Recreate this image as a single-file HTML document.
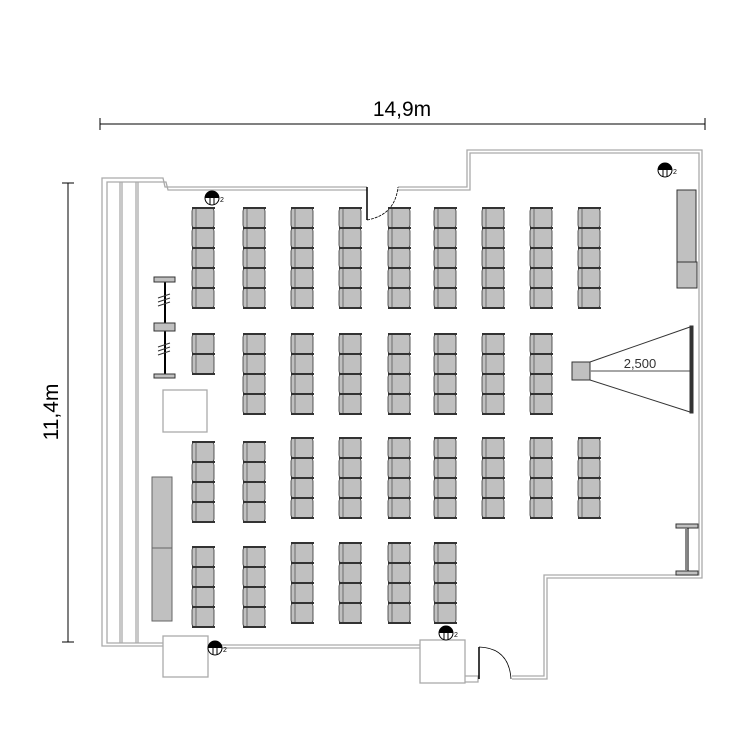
<!DOCTYPE html>
<html><head><meta charset="utf-8"><style>
html,body{margin:0;padding:0;background:#fff;}
svg{display:block;}
</style></head><body>
<svg id="s" width="750" height="750" viewBox="0 0 750 750" xmlns="http://www.w3.org/2000/svg" font-family="Liberation Sans, sans-serif">
<rect width="750" height="750" fill="#fff"/>
<!-- dimension lines -->
<g stroke="#000" stroke-width="1">
<line x1="100" y1="124" x2="705" y2="124"/>
<line x1="100" y1="118" x2="100" y2="130"/>
<line x1="705" y1="118" x2="705" y2="130"/>
<line x1="68" y1="183" x2="68" y2="642"/>
<line x1="62" y1="183" x2="74" y2="183"/>
<line x1="62" y1="642" x2="74" y2="642"/>
</g>
<text x="402" y="116" font-size="21" text-anchor="middle">14,9m</text>
<text x="0" y="0" font-size="21" text-anchor="middle" transform="translate(58,412) rotate(-90)">11,4m</text>

<!-- walls -->
<g fill="none" stroke="#aaa" stroke-width="1.3">
<polyline points="367,187 165,187 163,178 102,178 102,646 163,646"/>
<polyline points="367,190 168,190 166,182 107,182 107,643 163,643"/>
<line x1="120" y1="182" x2="120" y2="643"/><line x1="122" y1="182" x2="122" y2="643"/>
<line x1="136" y1="182" x2="136" y2="643"/><line x1="138" y1="182" x2="138" y2="643"/>
<polyline points="398,187 467,187 467,150 702,150 702,578 547,578 547,679 512,679"/>
<polyline points="398,190 470,190 470,153 699,153 699,575 544,575 544,676 512,676"/>
<polyline points="208,645 420,645"/><polyline points="208,648 420,648"/>
<polyline points="465,676 478,676 478,682 465,682"/>
<rect x="163" y="636" width="45" height="41"/>
<rect x="420" y="640" width="45" height="43"/>
<rect x="163" y="390" width="44" height="42"/>
</g>
<!-- doors -->
<g fill="none" stroke="#000">
<line x1="367" y1="187" x2="367" y2="220" stroke-width="1.5"/>
<path d="M367,220 Q395,215 398,187" stroke-width="0.8" stroke-dasharray="3,1"/>
<line x1="479" y1="647" x2="479" y2="679" stroke-width="1.5"/>
<path d="M479,647 Q509,648 511,679" stroke-width="0.8"/>
</g>
<!-- left furniture -->
<g stroke="#333" stroke-width="1">
<line x1="165" y1="278" x2="165" y2="377" stroke="#000" stroke-width="2"/>
<rect x="154" y="277" width="21" height="5" fill="#c0c0c0"/>
<rect x="154" y="323" width="21" height="8" fill="#c0c0c0"/>
<rect x="154" y="374" width="21" height="4" fill="#c0c0c0"/>
<path d="M158,298 l12,-4 M158,302 l12,-4 M158,306 l12,-4 M158,347 l12,-4 M158,351 l12,-4 M158,355 l12,-4" fill="none"/>
<rect x="152" y="477" width="20" height="144" fill="#c0c0c0" stroke="#666"/>
<line x1="152" y1="548" x2="172" y2="548" stroke="#666"/>
<!-- right furniture -->
<rect x="677" y="190" width="19" height="73" fill="#c0c0c0"/>
<rect x="677" y="262" width="20" height="26" fill="#c0c0c0"/>
<rect x="572" y="362" width="18" height="18" fill="#c0c0c0"/>
<line x1="590" y1="362" x2="690" y2="327"/>
<line x1="590" y1="380" x2="690" y2="412"/>
<line x1="590" y1="371" x2="690" y2="371" stroke="#888" stroke-width="1.5"/>
<rect x="690" y="326" width="3" height="87" fill="#333"/>
<rect x="676" y="524" width="22" height="4" fill="#c0c0c0"/>
<rect x="676" y="571" width="22" height="4" fill="#c0c0c0"/>
<line x1="686" y1="528" x2="686" y2="571" stroke="#888" stroke-width="2"/>
<line x1="688" y1="528" x2="688" y2="571" stroke="#000"/>
</g>
<text x="640" y="368" font-size="13" text-anchor="middle" fill="#333">2,500</text>
<g id="chairs"></g>
<g id="lights"></g>
</svg>
<script>
var ns="http://www.w3.org/2000/svg",g=document.getElementById('chairs'),L=document.getElementById('lights');
function el(p,t,a){var e=document.createElementNS(ns,t);for(var k in a)e.setAttribute(k,a[k]);p.appendChild(e);return e;}
function col(x,y,n){for(var i=0;i<n;i++){var yy=y+i*20;
el(g,'rect',{x:x,y:yy,width:22,height:20,rx:3,fill:'#c0c0c0',stroke:'#333','stroke-width':0.8});
el(g,'line',{x1:x+4,y1:yy+1,x2:x+4,y2:yy+19,stroke:'#333','stroke-width':0.6});
el(g,'rect',{x:x,y:yy-1,width:23,height:2,fill:'#333'});}
el(g,'rect',{x:x,y:y+n*20-1,width:23,height:2,fill:'#333'});}
var X=[192,243,291,339,388,434,482,530,578];
X.forEach(function(x){col(x,208,5);});
col(192,334,2);for(var i=1;i<8;i++)col(X[i],334,4);
col(192,442,4);col(243,442,4);for(i=2;i<9;i++)col(X[i],438,4);
col(192,547,4);col(243,547,4);for(i=2;i<6;i++)col(X[i],543,4);
function light(cx,cy){
el(L,'circle',{cx:cx,cy:cy,r:7,fill:'#fff',stroke:'#000','stroke-width':1});
el(L,'path',{d:'M'+(cx-7)+','+cy+' A7,7 0 0 1 '+(cx+7)+','+cy+' Z',fill:'#000'});
el(L,'line',{x1:cx-7,y1:cy-1,x2:cx+7,y2:cy-1,stroke:'#000'});
el(L,'line',{x1:cx-2,y1:cy,x2:cx-2,y2:cy+7,stroke:'#000'});
el(L,'line',{x1:cx+2,y1:cy,x2:cx+2,y2:cy+7,stroke:'#000'});
var t=el(L,'text',{x:cx+8,y:cy+4,'font-size':7});t.textContent='2';}
light(212,198);light(665,170);light(215,648);light(446,633);
</script>
</body></html>
